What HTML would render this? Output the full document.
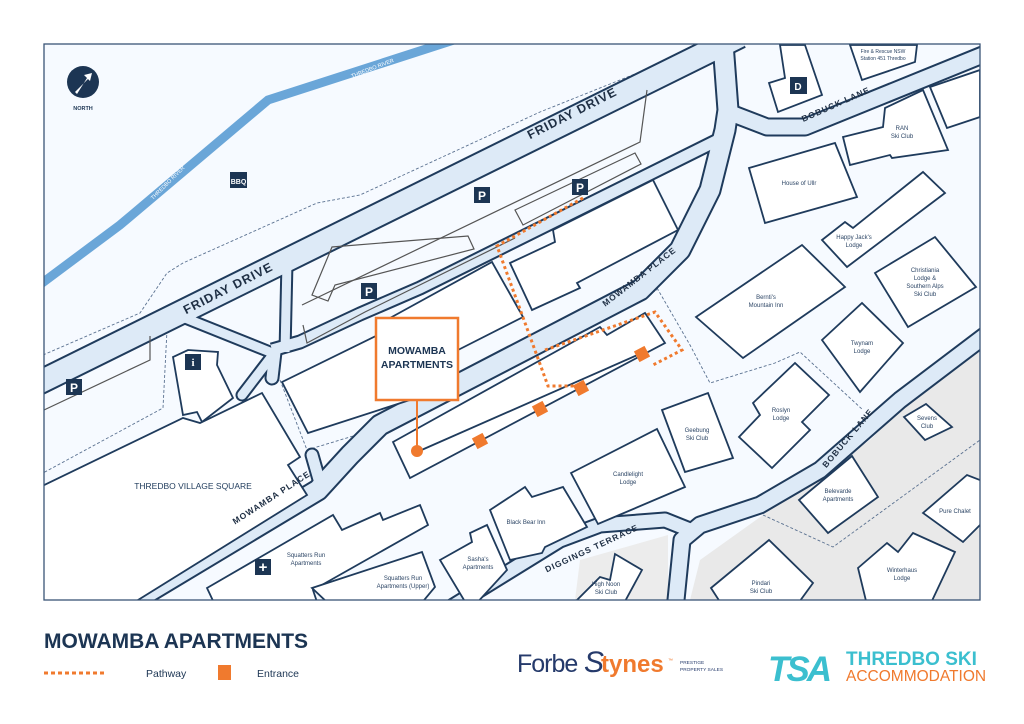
<!DOCTYPE html>
<html><head><meta charset="utf-8"><style>
html,body{margin:0;padding:0;background:#fff;}
svg{display:block;font-family:"Liberation Sans",sans-serif;}
</style></head><body>
<svg width="1024" height="724" viewBox="0 0 1024 724" xmlns="http://www.w3.org/2000/svg">
<defs><clipPath id="m"><rect x="44" y="44" width="936" height="556"/></clipPath></defs>
<rect x="0" y="0" width="1024" height="724" fill="#fff"/>
<g clip-path="url(#m)">
<rect x="44" y="44" width="936" height="556" fill="#f6faff"/>
<polygon points="690,600 700,560 770,510 870,440 985,325 985,600" fill="#e9e9e9"/>
<polygon points="580,560 668,535 668,600 575,600" fill="#ececec"/>
<polyline points="30,292 120,225 268,100 460,38" fill="none" stroke="#6aa6d8" stroke-width="9"/>
<text x="0" y="0" font-size="5.5" fill="#fff" transform="translate(352,78) rotate(-21)">THREDBO RIVER</text>
<text x="0" y="0" font-size="5.5" fill="#fff" transform="translate(153,200) rotate(-45)">THREDBO RIVER</text>
<g fill="none" stroke="#5a7190" stroke-width="0.9" stroke-dasharray="3,2">
<polyline points="43,355 140,313 167,273 183,263 317,203 360,195 540,112 720,40"/>
<polyline points="167,330 163,408 43,473"/>
<polyline points="280,380 307,450 373,430 657,290"/>
<polyline points="657,288 690,345 710,383 775,363 800,352 863,410"/>
<polyline points="763,515 833,547 980,440"/>
</g>
<g fill="none" stroke="#1f3b5c" stroke-linejoin="round" stroke-linecap="butt">
<polyline points="20,392 740,36" stroke-width="26"/>
<polyline points="287,262 285,352" stroke-width="13"/>
<polyline points="180,316 270,352" stroke-width="13"/>
<polyline points="275,352 242,395" stroke-width="13" stroke-linecap="round"/>
<polyline points="275,352 272,378" stroke-width="15" stroke-linecap="round"/>
<polyline points="272,350 300,342 360,314 420,288 722,138" stroke-width="15"/>
<polyline points="312,455 320,483" stroke-width="15" stroke-linecap="round"/>
<polyline points="115,612 318,490 350,455 380,425 640,290 680,250 710,190 725,130 728,110 722,30" stroke-width="23"/>
<polyline points="728,112 767,127 805,127 990,52" stroke-width="19"/>
<polyline points="995,328 900,400 820,470 760,505 700,525 682,540 675,610" stroke-width="19"/>
<polyline points="450,608 560,540 600,525 665,520 690,530" stroke-width="17"/>
</g>
<g fill="none" stroke="#ddeaf7" stroke-linejoin="round" stroke-linecap="butt">
<polyline points="20,392 740,36" stroke-width="22"/>
<polyline points="287,262 285,352" stroke-width="9"/>
<polyline points="180,316 270,352" stroke-width="9"/>
<polyline points="275,352 242,395" stroke-width="9" stroke-linecap="round"/>
<polyline points="275,352 272,378" stroke-width="11" stroke-linecap="round"/>
<polyline points="272,350 300,342 360,314 420,288 722,138" stroke-width="11"/>
<polyline points="312,455 320,483" stroke-width="11" stroke-linecap="round"/>
<polyline points="115,612 318,490 350,455 380,425 640,290 680,250 710,190 725,130 728,110 722,30" stroke-width="19"/>
<polyline points="728,112 767,127 805,127 990,52" stroke-width="15"/>
<polyline points="995,328 900,400 820,470 760,505 700,525 682,540 675,610" stroke-width="15"/>
<polyline points="450,608 560,540 600,525 665,520 690,530" stroke-width="13"/>
</g>
<g fill="none" stroke="#555" stroke-width="1.2">
<polygon points="312,295 332,247 468,236 474,249 335,285 328,301"/>
<polygon points="515,210 635,153 641,164 523,225"/>
<polyline points="647,90 640,142 302,305"/>
<polyline points="303,325 307,343 365,312 515,238"/>
<polyline points="44,410 150,360 150,336"/>
</g>
<g fill="#fff" stroke="#1f3b5c" stroke-width="1.8" stroke-linejoin="miter">
<polygon points="850,45 917,45 915,62 862,80"/>
<polygon points="780,45 805,45 822,95 778,112 769,83 785,78"/>
<polygon points="930,87 980,70 980,117 947,128"/>
<polygon points="843,137 883,127 885,108 923,90 948,150 892,158 890,155 850,165"/>
<polygon points="749,168 835,143 857,197 765,223"/>
<polygon points="822,240 845,222 853,228 923,172 945,193 847,267"/>
<polygon points="875,273 935,237 976,287 908,327"/>
<polygon points="696,317 802,245 845,287 743,358"/>
<polygon points="822,340 862,303 903,343 860,392"/>
<polygon points="753,403 795,363 829,395 802,422 810,430 772,468 739,437 760,415"/>
<polygon points="662,410 708,393 733,458 685,472"/>
<polygon points="571,473 657,429 685,487 598,524"/>
<polygon points="490,510 525,487 532,497 563,487 587,527 545,547 542,553 510,560"/>
<polygon points="904,417 926,404 952,427 925,440"/>
<polygon points="799,500 852,456 878,497 828,533"/>
<polygon points="923,513 967,475 985,482 985,520 963,542"/>
<polygon points="858,568 887,543 898,552 913,533 955,552 930,605 867,605"/>
<polygon points="711,588 769,540 813,583 797,605 722,605"/>
<polygon points="572,605 600,577 610,580 615,554 642,570 623,605"/>
<polygon points="173,357 183,415 197,412 202,422 233,398 217,365 218,352 188,350"/>
<polygon points="40,487 183,418 200,423 262,393 300,457 288,465 307,495 130,605 40,605"/>
<polygon points="282,382 380,334 410,400 308,433"/>
<polygon points="390,318 492,262 523,317 458,350 420,368"/>
<polygon points="510,263 555,242 553,230 653,180 678,230 577,283 580,288 532,310"/>
<polygon points="207,588 333,515 342,530 380,513 383,520 420,505 428,525 313,590 318,605 215,605"/>
<polygon points="312,588 422,552 435,587 420,605 330,605"/>
<polygon points="440,560 472,542 470,533 487,525 507,570 475,605 467,605"/>
<polygon points="393,442 600,327 607,335 645,313 665,343 410,478"/>
</g>
<line x1="417" y1="452" x2="642" y2="353" stroke="#1f3b5c" stroke-width="1.8"/>
<g fill="none" stroke="#f07a2e" stroke-width="3" stroke-dasharray="3,3">
<polyline points="583,198 497,246 548,386 578,386"/>
<polyline points="545,350 655,312 682,350 651,366"/>
</g>
<g fill="#f07a2e">
<rect x="-6" y="-6" width="12" height="12" transform="translate(480,441) rotate(-28)"/>
<rect x="-6" y="-6" width="12" height="12" transform="translate(540,409) rotate(-28)"/>
<rect x="-6" y="-6" width="12" height="12" transform="translate(581,388) rotate(-28)"/>
<rect x="-6" y="-6" width="12" height="12" transform="translate(642,354) rotate(-28)"/>
</g>
<line x1="417" y1="400" x2="417" y2="450" stroke="#f07a2e" stroke-width="2"/>
<circle cx="417" cy="451" r="6" fill="#f07a2e"/>
<rect x="376" y="318" width="82" height="82" fill="#fff" stroke="#f07a2e" stroke-width="2.5"/>
<text x="417" y="354" font-size="10.5" font-weight="bold" fill="#1c3553" text-anchor="middle">MOWAMBA</text>
<text x="417" y="368" font-size="10.5" font-weight="bold" fill="#1c3553" text-anchor="middle">APARTMENTS</text>
<g fill="#1c3553">
<rect x="66" y="379" width="16" height="16"/><rect x="361" y="283" width="16" height="16"/>
<rect x="474" y="187" width="16" height="16"/><rect x="572" y="179" width="16" height="16"/>
<rect x="230" y="172" width="17" height="16"/>
<rect x="185" y="354" width="16" height="16"/>
<rect x="255" y="559" width="16" height="16"/>
<rect x="790" y="77" width="17" height="17"/>
<circle cx="83" cy="82" r="16"/>
</g>
<g fill="#fff" font-weight="bold" text-anchor="middle">
<text x="74" y="392" font-size="12">P</text><text x="369" y="296" font-size="12">P</text>
<text x="482" y="200" font-size="12">P</text><text x="580" y="192" font-size="12">P</text>
<text x="238.5" y="184" font-size="7">BBQ</text>
<text x="193" y="366" font-size="11" font-family="Liberation Serif,serif">i</text>
<text x="263" y="572" font-size="15">+</text>
<text x="798" y="90" font-size="10">D</text>
</g>
<path d="M75 92 L88 79 L84 75 L92 73 L90 81 L87 78 L77 94 Z" fill="#fff"/>
<text x="83" y="110" font-size="5.5" font-weight="bold" fill="#1c3553" text-anchor="middle">NORTH</text>
<g font-weight="bold" fill="#1f2f44" letter-spacing="1">
<text font-size="12.5" text-anchor="middle" transform="translate(230,292) rotate(-27)">FRIDAY DRIVE</text>
<text font-size="12.5" text-anchor="middle" transform="translate(574,117) rotate(-27)">FRIDAY DRIVE</text>
<text font-size="8.5" text-anchor="middle" transform="translate(273,500) rotate(-33)">MOWAMBA PLACE</text>
<text font-size="8.5" text-anchor="middle" transform="translate(641,279) rotate(-38)">MOWAMBA PLACE</text>
<text font-size="8.5" text-anchor="middle" transform="translate(837,107) rotate(-24)">BOBUCK LANE</text>
<text font-size="8.5" text-anchor="middle" transform="translate(850,440) rotate(-50)">BOBUCK LANE</text>
<text font-size="8.5" text-anchor="middle" transform="translate(593,551) rotate(-25)">DIGGINGS TERRACE</text>
</g>
<g font-size="6" fill="#2c4565" text-anchor="middle">
<text x="883" y="53" font-size="5">Fire &amp; Rescue NSW</text><text x="883" y="60" font-size="5">Station 451 Thredbo</text>
<text x="902" y="130">RAN</text><text x="902" y="138">Ski Club</text>
<text x="799" y="185">House of Ullr</text>
<text x="854" y="239">Happy Jack's</text><text x="854" y="247">Lodge</text>
<text x="925" y="272">Christiania</text><text x="925" y="280">Lodge &amp;</text><text x="925" y="288">Southern Alps</text><text x="925" y="296">Ski Club</text>
<text x="766" y="299">Bernti's</text><text x="766" y="307">Mountain Inn</text>
<text x="862" y="345">Twynam</text><text x="862" y="353">Lodge</text>
<text x="781" y="412">Roslyn</text><text x="781" y="420">Lodge</text>
<text x="697" y="432">Geebung</text><text x="697" y="440">Ski Club</text>
<text x="628" y="476">Candlelight</text><text x="628" y="484">Lodge</text>
<text x="526" y="524">Black Bear Inn</text>
<text x="927" y="420">Sevens</text><text x="927" y="428">Club</text>
<text x="838" y="493">Belevarde</text><text x="838" y="501">Apartments</text>
<text x="955" y="513">Pure Chalet</text>
<text x="902" y="572">Winterhaus</text><text x="902" y="580">Lodge</text>
<text x="761" y="585">Pindari</text><text x="761" y="593">Ski Club</text>
<text x="606" y="586">High Noon</text><text x="606" y="594">Ski Club</text>
<text x="478" y="561">Sasha's</text><text x="478" y="569">Apartments</text>
<text x="306" y="557">Squatters Run</text><text x="306" y="565">Apartments</text>
<text x="403" y="580">Squatters Run</text><text x="403" y="588">Apartments (Upper)</text>
<text x="193" y="489" font-size="8.5" fill="#1f3b5c">THREDBO VILLAGE SQUARE</text>
</g>
</g>
<rect x="44" y="44" width="936" height="556" fill="none" stroke="#3a5576" stroke-width="1.3"/>
<text x="44" y="648" font-size="21" font-weight="bold" fill="#1c3553">MOWAMBA APARTMENTS</text>
<line x1="44" y1="673" x2="104" y2="673" stroke="#f07a2e" stroke-width="3" stroke-dasharray="4,3"/>
<text x="146" y="677" font-size="10.5" fill="#1c3553">Pathway</text>
<rect x="218" y="665" width="13" height="15" fill="#f07a2e"/>
<text x="257" y="677" font-size="10.5" fill="#1c3553">Entrance</text>
<text x="517" y="672" font-size="25" fill="#253a6b" letter-spacing="-1">Forbe</text>
<text x="584" y="672" font-size="30" fill="#253a6b" font-style="italic">S</text>
<text x="601" y="672" font-size="24" font-weight="bold" fill="#f07a2e">tynes</text>
<text x="668" y="662" font-size="5" fill="#f07a2e">™</text>
<text x="680" y="664" font-size="4.8" fill="#253a6b">PRESTIGE</text>
<text x="680" y="671" font-size="4.8" fill="#253a6b">PROPERTY SALES</text>
<text x="768" y="681" font-size="35" font-weight="bold" font-style="italic" fill="#3bbfcf" letter-spacing="-3">TSA</text>
<text x="846" y="665" font-size="19" font-weight="bold" fill="#3bbfcf">THREDBO SKI</text>
<text x="846" y="681" font-size="15.5" fill="#f07a2e">ACCOMMODATION</text>
</svg>
</body></html>
